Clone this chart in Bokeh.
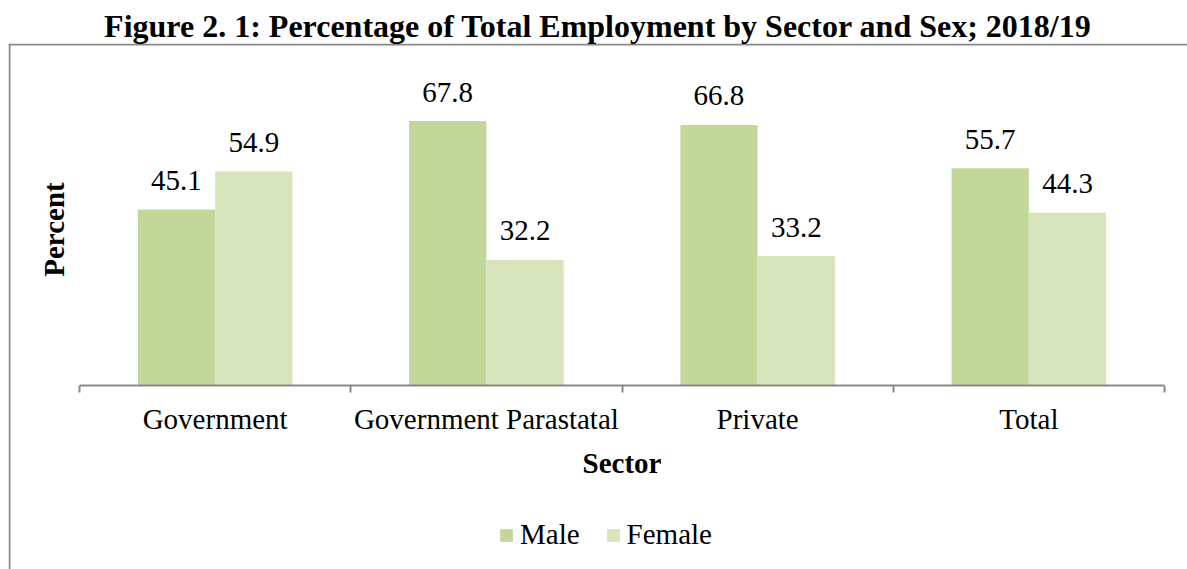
from bokeh.plotting import figure
from bokeh.models import (Range1d, FixedTicker, ColumnDataSource, Legend, LegendItem, Title, Span)
from bokeh.core.properties import value
from bokeh.embed import file_html
from bokeh.resources import INLINE

sectors = ["Government", "Government Parastatal", "Private", "Total"]
male = [45.1, 67.8, 66.8, 55.7]
female = [54.9, 32.2, 33.2, 44.3]
title_text = "Figure 2. 1: Percentage of Total Employment by Sector and Sex; 2018/19"

FONT = "Liberation Serif"
MALE_C = "#c4d79b"
FEMALE_C = "#d8e4bc"
GRID_C = "#898989"

idx = list(range(len(sectors)))
bw = 0.285
src = ColumnDataSource(dict(
    xm=[i + 0.5 - bw / 2 for i in idx],
    xf=[i + 0.5 + bw / 2 for i in idx],
    male=male, female=female,
    ml=[f"{v:.1f}" for v in male],
    fl=[f"{v:.1f}" for v in female],
))

# frame = the outer chart box; axes pinned inside it
p = figure(width=1187, height=569, output_backend="svg", toolbar_location=None,
           x_range=Range1d(-0.2618, 4.0848), y_range=Range1d(-47.18, 87.69),
           min_border_left=8, min_border_right=0, min_border_top=43,
           min_border_bottom=0)
p.outline_line_color = None
p.grid.visible = False
p.background_fill_color = "white"
p.border_fill_color = "white"

# left and top edges of the chart box
p.add_layout(Span(location=-0.2581, dimension="height", line_color=GRID_C, line_width=2))
p.add_layout(Span(location=87.44, dimension="width", line_color=GRID_C, line_width=2))

p.title = Title(text=title_text, text_font=FONT, text_font_size="32px",
                text_font_style="bold", text_color="black",
                align="center", standoff=0)

rm = p.vbar(x="xm", top="male", width=bw, bottom=0, source=src,
            fill_color=MALE_C, line_color=None)
rf = p.vbar(x="xf", top="female", width=bw, bottom=0, source=src,
            fill_color=FEMALE_C, line_color=None)

for xcol, ycol, tcol in (("xm", "male", "ml"), ("xf", "female", "fl")):
    p.text(x=xcol, y=ycol, text=tcol, source=src, text_font=value(FONT),
           text_font_size="29px", text_align="center", text_baseline="alphabetic",
           y_offset=-29, text_color="black")

xa = p.xaxis[0]
xa.fixed_location = 0
xa.bounds = (0, len(sectors))
xa.ticker = FixedTicker(ticks=[i + 0.5 for i in idx],
                        minor_ticks=list(range(len(sectors) + 1)))
xa.major_label_overrides = {i + 0.5: s for i, s in zip(idx, sectors)}
xa.major_tick_out = 0
xa.major_tick_in = 0
xa.minor_tick_out = 7
xa.minor_tick_in = 0
xa.minor_tick_line_color = GRID_C
xa.minor_tick_line_width = 2
xa.axis_line_color = GRID_C
xa.axis_line_width = 2
xa.major_label_text_font = FONT
xa.major_label_text_font_size = "29px"
xa.major_label_text_color = "black"
xa.major_label_standoff = 11
xa.axis_label = "Sector"
xa.axis_label_text_font = FONT
xa.axis_label_text_font_size = "29px"
xa.axis_label_text_font_style = "bold"
xa.axis_label_text_color = "black"
xa.axis_label_standoff = 8

ya = p.yaxis[0]
ya.fixed_location = 0
ya.bounds = (0, 80)
ya.ticker = FixedTicker(ticks=[])
ya.axis_line_color = None
ya.major_tick_line_color = None
ya.minor_tick_line_color = None
ya.major_label_text_font_size = "0px"
ya.axis_label = "Percent"
ya.axis_label_text_font = FONT
ya.axis_label_text_font_size = "29px"
ya.axis_label_text_font_style = "bold"
ya.axis_label_text_color = "black"
ya.axis_label_standoff = 10

legend = Legend(items=[LegendItem(label="Male", renderers=[rm]),
                       LegendItem(label="Female", renderers=[rf])],
                orientation="horizontal", location=(490, 18),
                label_text_font=FONT, label_text_font_size="29px",
                label_text_color="black",
                glyph_width=16, glyph_height=16, spacing=25,
                label_standoff=6, border_line_color=None,
                background_fill_alpha=0, margin=0, padding=0)
p.add_layout(legend, "center")

open("out.html", "w").write(file_html(p, INLINE))
